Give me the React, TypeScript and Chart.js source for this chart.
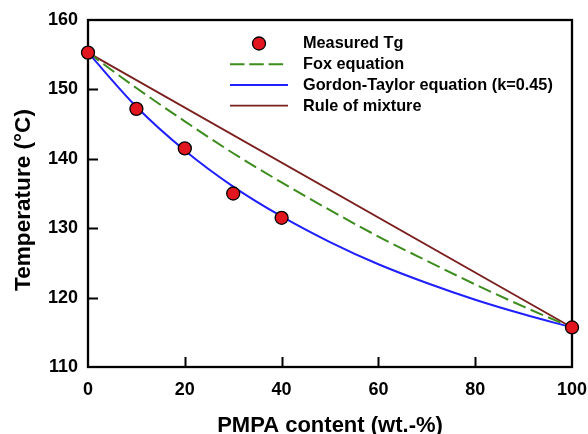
import React, { useEffect, useRef } from 'react';
import { Chart, registerables } from 'chart.js';

Chart.register(...registerables);

// ---- data ----
const measuredX = [0, 10, 20, 30, 40, 100];
const measuredY = [155.3, 147.2, 141.5, 135.0, 131.5, 115.7];

const curveX = [0, 10, 20, 30, 40, 50, 60, 70, 80, 90, 100];
const foxY = [155.3, 150.2, 145.4, 140.8, 136.6, 132.6, 128.8, 125.3, 121.9, 118.7, 115.7];
const gordonTaylorY = [155.3, 147.5, 141.2, 136.0, 131.7, 128.0, 124.8, 122.1, 119.7, 117.6, 115.7];

const mixtureX = [0, 100];
const mixtureY = [155.3, 115.7];

const xTicks = [0, 20, 40, 60, 80, 100];
const yTicks = [110, 120, 130, 140, 150, 160];

const seriesLabels = [
  'Measured Tg',
  'Fox equation',
  'Gordon-Taylor equation (k=0.45)',
  'Rule of mixture',
];
const xTitle = 'PMPA content (wt.-%)';
const yTitle = 'Temperature (°C)';

const FONT = '"Liberation Sans", Arial, Helvetica, sans-serif';

const toXY = (xs: number[], ys: number[]) => xs.map((x, i) => ({ x, y: ys[i] }));

const framePlugin = {
  id: 'frameTicks',
  beforeDatasetsDraw(chart: any) {
    const { ctx, chartArea: a, scales } = chart;
    ctx.save();
    ctx.strokeStyle = '#000';
    ctx.lineWidth = 2;
    ctx.beginPath();
    xTicks.forEach((v) => {
      if (v === scales.x.min || v === scales.x.max) return;
      const px = Math.round(scales.x.getPixelForValue(v)) + 0.5;
      ctx.moveTo(px, a.bottom);
      ctx.lineTo(px, a.bottom - 10);
    });
    yTicks.forEach((v) => {
      if (v === scales.y.min || v === scales.y.max) return;
      const py = Math.round(scales.y.getPixelForValue(v)) + 0.5;
      ctx.moveTo(a.left, py);
      ctx.lineTo(a.left + 10, py);
    });
    ctx.stroke();
    ctx.lineWidth = 2.3;
    ctx.strokeRect(a.left, a.top, a.right - a.left, a.bottom - a.top);
    ctx.restore();
  },
  afterDraw(chart: any) {
    const { ctx, chartArea: a } = chart;
    ctx.save();
    ctx.fillStyle = '#000';
    ctx.font = `bold 22px ${FONT}`;
    ctx.textAlign = 'center';
    ctx.textBaseline = 'alphabetic';
    ctx.fillText(xTitle, (a.left + a.right) / 2, a.bottom + 64.5);
    ctx.font = `bold 22.6px ${FONT}`;
    ctx.translate(29.5, (a.top + a.bottom) / 2 + 6.5);
    ctx.rotate(-Math.PI / 2);
    ctx.fillText(yTitle, 0, 0);
    ctx.restore();
  },
};

const legendPlugin = {
  id: 'insideLegend',
  afterDatasetsDraw(chart: any) {
    const { ctx, chartArea: a } = chart;
    const ds = chart.data.datasets;
    const lineX0 = a.left + 142;
    const lineX1 = a.left + 200;
    const textX = a.left + 215;
    const rowY0 = a.top + 23.5;
    const rowH = 20.7;
    ctx.save();
    ds.forEach((d: any, i: number) => {
      const y = rowY0 + i * rowH;
      if (i === 0) {
        ctx.beginPath();
        ctx.arc((lineX0 + lineX1) / 2, y, d.pointRadius, 0, Math.PI * 2);
        ctx.fillStyle = d.backgroundColor;
        ctx.fill();
        ctx.lineWidth = d.borderWidth;
        ctx.strokeStyle = d.borderColor;
        ctx.stroke();
      } else {
        ctx.beginPath();
        ctx.setLineDash(d.borderDash ? [14.5, 4.8] : []);
        ctx.lineWidth = d.borderWidth;
        ctx.strokeStyle = d.borderColor;
        ctx.moveTo(lineX0, y);
        ctx.lineTo(lineX1, y);
        ctx.stroke();
        ctx.setLineDash([]);
      }
      ctx.fillStyle = '#000';
      ctx.font = `bold 16.3px ${FONT}`;
      ctx.textAlign = 'left';
      ctx.textBaseline = 'middle';
      ctx.fillText(d.label, textX, y + 0.5);
    });
    ctx.restore();
  },
};

export default function App() {
  const ref = useRef<HTMLCanvasElement | null>(null);

  useEffect(() => {
    if (!ref.current) return;
    const chart = new Chart(ref.current, {
      type: 'scatter',
      data: {
        datasets: [
          {
            label: seriesLabels[0],
            data: toXY(measuredX, measuredY),
            showLine: false,
            pointRadius: 6.5,
            pointHoverRadius: 6.5,
            backgroundColor: '#e2161e',
            borderColor: '#000000',
            borderWidth: 1.3,
            clip: false,
            order: 0,
          },
          {
            label: seriesLabels[1],
            data: toXY(curveX, foxY),
            showLine: true,
            pointRadius: 0,
            borderColor: '#3d8c1e',
            backgroundColor: '#3d8c1e',
            borderWidth: 2,
            borderDash: [13.5, 5.5],
            cubicInterpolationMode: 'monotone',
            order: 2,
          },
          {
            label: seriesLabels[2],
            data: toXY(curveX, gordonTaylorY),
            showLine: true,
            pointRadius: 0,
            borderColor: '#1f1fff',
            backgroundColor: '#1f1fff',
            borderWidth: 2,
            cubicInterpolationMode: 'monotone',
            order: 1,
          },
          {
            label: seriesLabels[3],
            data: toXY(mixtureX, mixtureY),
            showLine: true,
            pointRadius: 0,
            borderColor: '#7a1e1e',
            backgroundColor: '#7a1e1e',
            borderWidth: 1.8,
            order: 3,
          },
        ],
      } as any,
      options: {
        responsive: false,
        animation: false,
        events: [],
        layout: { padding: { top: 20, right: 16, bottom: 0, left: 0 } },
        plugins: {
          legend: { display: false },
          tooltip: { enabled: false },
          title: { display: false },
        },
        scales: {
          x: {
            type: 'linear',
            min: 0,
            max: 100,
            grid: { display: false, drawTicks: false },
            border: { display: false },
            afterBuildTicks: (s: any) => {
              s.ticks = xTicks.map((value) => ({ value }));
            },
            afterFit: (s: any) => {
              s.height = 67;
              s.paddingLeft = 0;
              s.paddingRight = 0;
            },
            ticks: {
              color: '#000',
              padding: 12,
              maxRotation: 0,
              autoSkip: false,
              font: { family: FONT, size: 18, weight: 'bold' },
            },
          },
          y: {
            type: 'linear',
            min: 110,
            max: 160,
            grid: { display: false, drawTicks: false },
            border: { display: false },
            afterBuildTicks: (s: any) => {
              s.ticks = yTicks.map((value) => ({ value }));
            },
            afterFit: (s: any) => {
              s.width = 88;
              s.paddingTop = 0;
              s.paddingBottom = 0;
            },
            ticks: {
              color: '#000',
              padding: 10,
              autoSkip: false,
              font: { family: FONT, size: 18, weight: 'bold' },
            },
          },
        },
      } as any,
      plugins: [framePlugin, legendPlugin],
    });
    return () => chart.destroy();
  }, []);

  return (
    <div style={{ position: 'fixed', left: 0, top: 0, width: 588, height: 434, background: '#fff' }}>
      <canvas ref={ref} width={588} height={434} style={{ display: 'block' }} />
    </div>
  );
}
